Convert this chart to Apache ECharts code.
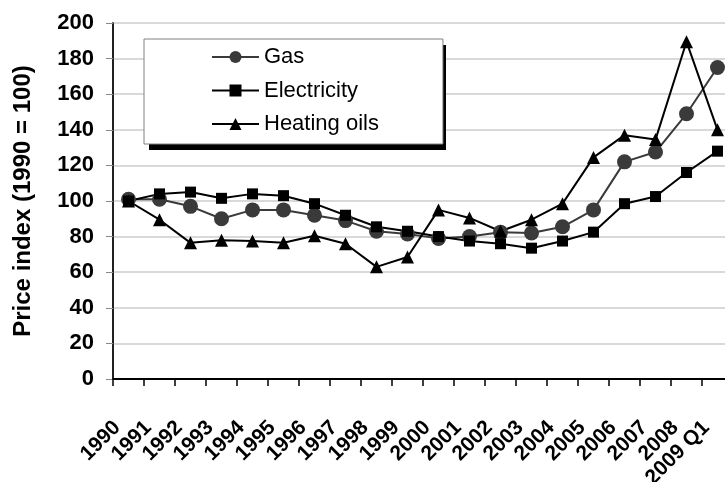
<!DOCTYPE html>
<html>
<head>
<meta charset="utf-8">
<script src="https://cdn.jsdelivr.net/npm/echarts@6/dist/echarts.min.js"></script>
<style>
html,body{margin:0;padding:0;background:#fff;}
#chart{width:725px;height:482px;}
</style>
</head>
<body>
<div id="chart"></div>
<script>
var categories = ['1990','1991','1992','1993','1994','1995','1996','1997','1998','1999','2000','2001','2002','2003','2004','2005','2006','2007','2008','2009 Q1'];
var gasValues = [101, 101, 97, 90, 95, 95, 92, 89, 83, 81.5, 79, 80, 82.5, 82, 85.5, 95, 122, 127.5, 149, 175];
var electricityValues = [100, 104, 105, 101.5, 104, 103, 98.5, 92, 85.5, 83, 80, 77.5, 76, 73.5, 77.5, 82.5, 98.5, 102.5, 116, 128];
var heatingOilValues = [100, 89.5, 76.5, 78, 77.5, 76.5, 80.5, 76, 63, 68.5, 95, 90.5, 83, 89.5, 98.5, 124.5, 137, 134.5, 189.5, 140];
var seriesNames = ['Gas', 'Electricity', 'Heating oils'];
var yAxisTitle = 'Price index (1990 = 100)';

var FONT = '"Liberation Sans", Arial, sans-serif';
var chart = echarts.init(document.getElementById('chart'), null, {renderer: 'canvas'});
chart.setOption({
  animation: false,
  backgroundColor: '#ffffff',
  grid: {
    left: 113, top: 23, width: 620, height: 356,
    containLabel: false,
    outerBoundsMode: 'none',
    show: true, borderColor: '#555555', borderWidth: 1.5, backgroundColor: 'transparent'
  },
  graphic: [{
    type: 'rect', z: 3, silent: true,
    shape: {x: 149, y: 45, width: 297, height: 105},
    style: {fill: '#000000'}
  }],
  legend: {
    orient: 'vertical',
    left: 144, top: 39,
    padding: [7, 64, 9, 67],
    itemWidth: 47, itemHeight: 15, itemGap: 11.5,
    backgroundColor: '#ffffff',
    borderColor: '#808080', borderWidth: 1,
    z: 4,
    textStyle: {fontFamily: FONT, fontSize: 22, color: '#000', lineHeight: 22},
    data: seriesNames
  },
  xAxis: {
    type: 'category',
    data: categories,
    boundaryGap: true,
    axisLine: {show: true, lineStyle: {color: '#000', width: 2}},
    axisTick: {show: true, inside: false, length: 7, alignWithLabel: false, lineStyle: {color: '#000', width: 1.5}},
    axisLabel: {
      interval: 0, rotate: 45, margin: 34, padding: [0, 16, 0, 0],
      fontFamily: FONT, fontSize: 21, fontWeight: 'bold', color: '#000'
    },
    splitLine: {show: false}
  },
  yAxis: {
    type: 'value',
    min: 0, max: 200, interval: 20,
    name: yAxisTitle,
    nameLocation: 'middle',
    nameGap: 78,
    nameTextStyle: {fontFamily: FONT, fontSize: 24, fontWeight: 'bold', color: '#000'},
    axisLine: {show: true, lineStyle: {color: '#000', width: 1.5}},
    axisTick: {show: true, inside: false, length: 7, lineStyle: {color: '#888', width: 1}},
    axisLabel: {margin: 19, fontFamily: FONT, fontSize: 22, fontWeight: 'bold', color: '#000'},
    splitLine: {show: true, lineStyle: {color: '#d9d9d9', width: 2}}
  },
  series: [
    {
      name: seriesNames[0], type: 'line', data: gasValues,
      symbol: 'circle', symbolSize: 15,
      lineStyle: {color: '#3a3a3a', width: 2},
      itemStyle: {color: '#3a3a3a', borderWidth: 0}
    },
    {
      name: seriesNames[1], type: 'line', data: electricityValues,
      symbol: 'rect', symbolSize: 11,
      lineStyle: {color: '#000', width: 2},
      itemStyle: {color: '#000', borderWidth: 0}
    },
    {
      name: seriesNames[2], type: 'line', data: heatingOilValues,
      symbol: 'triangle', symbolSize: 13,
      lineStyle: {color: '#000', width: 2},
      itemStyle: {color: '#000', borderWidth: 0}
    }
  ]
});
</script>
</body>
</html>
